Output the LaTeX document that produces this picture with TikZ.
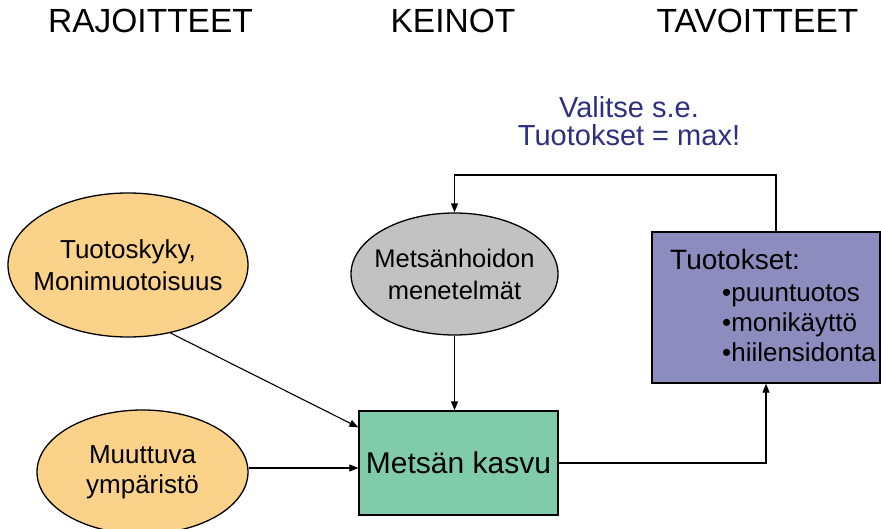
\documentclass[tikz,border=0pt]{standalone}
\usepackage{fontspec}
\setmainfont{Liberation Sans}
\usetikzlibrary{shapes.geometric,arrows.meta}

\definecolor{limitfill}{HTML}{FBD28A}
\definecolor{meansfill}{HTML}{C2C2C2}
\definecolor{growthfill}{HTML}{80CCAA}
\definecolor{outfill}{HTML}{8C8CBF}
\definecolor{goalblue}{HTML}{2F2F7F}

\tikzset{
  heading/.style={font=\fontsize{33.5}{36}\selectfont, anchor=base, inner sep=0pt},
  oval/.style={ellipse, draw, line width=1.3pt, inner sep=0pt},
  ovaltext/.style={align=center, inner sep=0pt},
  block/.style={rectangle, draw, line width=1.3pt, inner sep=0pt},
  arr/.style={-{Triangle[length=9pt,width=7pt]}, line width=1.1pt},
  listitem/.style={anchor=base west, inner sep=0pt, font=\fontsize{26}{30}\selectfont}
}

\begin{document}
\begin{tikzpicture}[x=1pt,y=-1pt]
\useasboundingbox (0,0) rectangle (881,529);

% column headings
\node[heading] (hlim)  at (150.5,33) {RAJOITTEET};
\node[heading] (hmean) at (453,33)   {KEINOT};
\node[heading] (hgoal) at (757.5,33) {TAVOITTEET};

% constraints
\node[oval, fill=limitfill, minimum width=240pt, minimum height=144pt,
      label={[ovaltext, font=\fontsize{26}{32}\selectfont]center:{Tuotoskyky,\\Monimuotoisuus}}]
      (kyky) at (128,265) {};
\node[oval, fill=limitfill, minimum width=211pt, minimum height=124pt,
      label={[ovaltext, font=\fontsize{26}{30}\selectfont]center:{Muuttuva\\ympäristö}}]
      (env) at (142.5,472) {};

% means
\node[oval, fill=meansfill, minimum width=207pt, minimum height=122pt,
      label={[ovaltext, font=\fontsize{25.5}{32}\selectfont]center:{Metsänhoidon\\menetelmät}}]
      (hoito) at (454.5,274) {};

% forest growth
\node[block, fill=growthfill, minimum width=199pt, minimum height=104pt,
      font=\fontsize{30}{34}\selectfont] (kasvu) at (458.5,463) {Metsän kasvu};

% outputs
\node[block, fill=outfill, minimum width=228pt, minimum height=151pt] (tulos) at (766,307.5) {};
\node[anchor=base west, inner sep=0pt, font=\fontsize{28}{30}\selectfont] (tt) at (670,270) {Tuotokset:};
\node[listitem] (b1) at (722,302) {•puuntuotos};
\node[listitem] (b2) at (722,332) {•monikäyttö};
\node[listitem] (b3) at (722,362) {•hiilensidonta};

% objective
\node[font=\fontsize{29}{28.5}\selectfont, text=goalblue, align=center, inner sep=0pt] (goal)
      at (629,121) {Valitse s.e.\\Tuotokset = max!};

% connectors
\coordinate (fb) at (615,175);
\draw[arr] (kyky.-58) -- ([yshift=-17pt]kasvu.north west);
\draw[arr] ([yshift=4pt]env.east) -- ([yshift=4pt]env.east -| kasvu.west);
\draw[arr] (hoito.south) -- (hoito.south |- kasvu.north);
\draw[arr] (kasvu.east) -| (tulos.south);
\draw[arr] ([xshift=10pt]tulos.north) |- (fb) -| (hoito.north);
\end{tikzpicture}
\end{document}
